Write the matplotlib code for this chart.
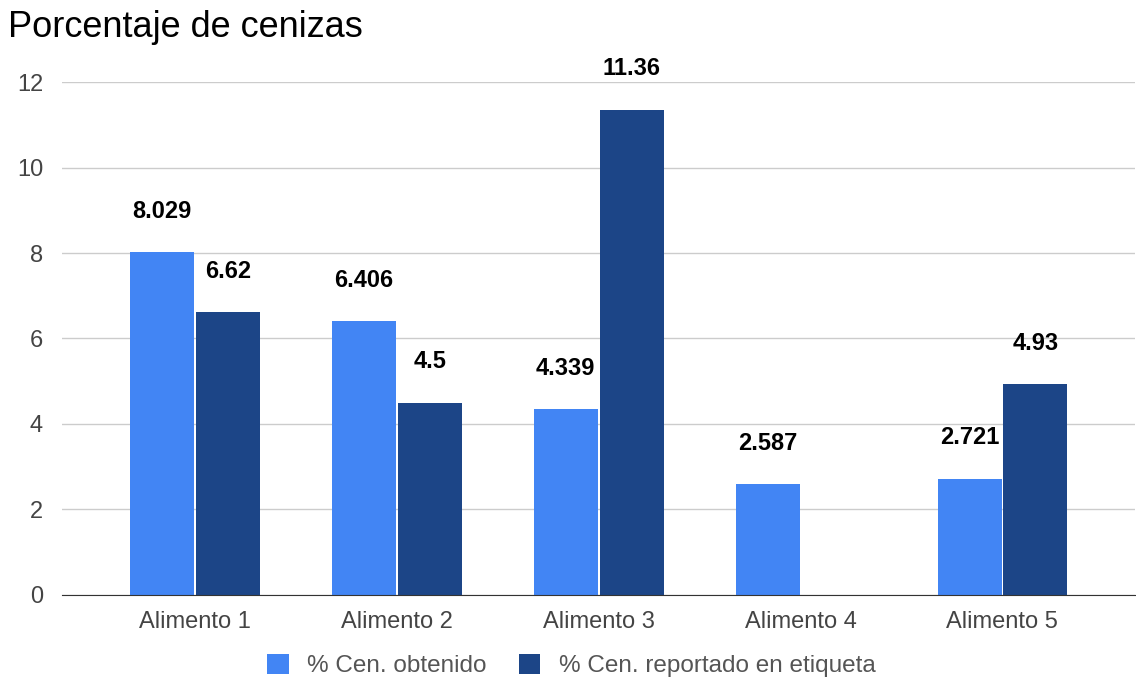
import matplotlib.pyplot as plt
import numpy as np

plt.rcParams["font.family"] = ["Liberation Sans", "DejaVu Sans"]

categories = ["Alimento 1", "Alimento 2", "Alimento 3", "Alimento 4", "Alimento 5"]
obtenido = [8.029, 6.406, 4.339, 2.587, 2.721]
reportado = [6.62, 4.5, 11.36, np.nan, 4.93]
obtenido_labels = ["8.029", "6.406", "4.339", "2.587", "2.721"]
reportado_labels = ["6.62", "4.5", "11.36", "", "4.93"]

fig = plt.figure(figsize=(11.36, 6.79), dpi=100)
ax = fig.add_axes([0.055, 0.124, 0.944, 0.755])

x = np.arange(len(categories))
w = 0.317
b1 = ax.bar(x - 0.163, obtenido, w, color="#4285F4", label="% Cen. obtenido", zorder=3)
b2 = ax.bar(x + 0.163, reportado, w, color="#1C4587",
            label="% Cen. reportado en etiqueta", zorder=3)

for bars, labels in ((b1, obtenido_labels), (b2, reportado_labels)):
    for bar, lab in zip(bars, labels):
        if not lab:
            continue
        ax.annotate(lab, (bar.get_x() + bar.get_width() / 2, bar.get_height()),
                    xytext=(0, 21), textcoords="offset points", ha="center",
                    va="bottom", fontsize=17, fontweight="bold", color="#000000")

ax.set_xlim(-0.656, 4.656)
ax.set_ylim(0, 12)
ax.set_yticks([0, 2, 4, 6, 8, 10, 12])
ax.set_xticks(x)
ax.set_xticklabels(categories)
ax.tick_params(axis="both", length=0, labelsize=17, colors="#444444")
ax.tick_params(axis="y", pad=14)
ax.tick_params(axis="x", pad=12)
ax.grid(axis="y", color="#CCCCCC", linewidth=1, zorder=0)
for s in ["top", "right", "left"]:
    ax.spines[s].set_visible(False)
ax.spines["bottom"].set_color("#333333")
ax.spines["bottom"].set_zorder(4)

fig.text(0.007, 0.96, "Porcentaje de cenizas", fontsize=26, color="#000000",
         ha="left", va="center")

fig.legend(loc="lower center", bbox_to_anchor=(0.503, -0.03), ncol=2, frameon=False,
           fontsize=17.5, labelcolor="#555555", handlelength=0.9, handleheight=0.9,
           columnspacing=1.3, handletextpad=0.75)

fig.savefig("out.png", dpi=100)
